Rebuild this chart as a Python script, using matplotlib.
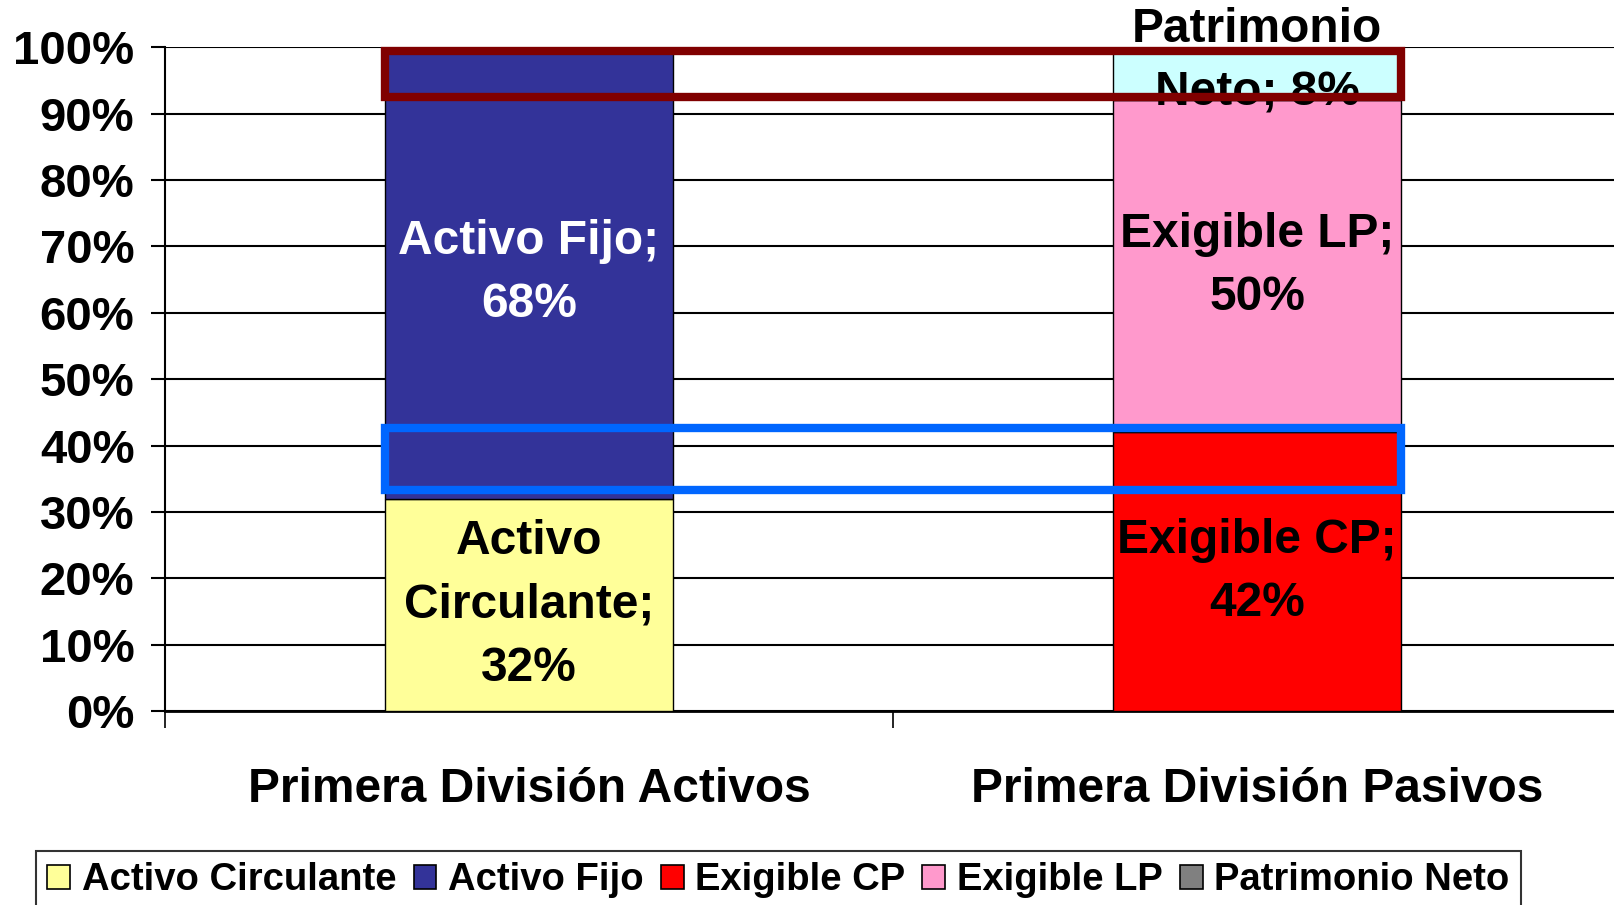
"""Stacked 100% bars: activos vs pasivos, with highlight boxes."""

import matplotlib
import matplotlib.pyplot as plt
from matplotlib.patches import Patch, Rectangle

matplotlib.use("Agg")

plt.rcParams["font.family"] = ["Liberation Sans", "DejaVu Sans"]
plt.rcParams["font.weight"] = "bold"

categories = ["Primera División Activos", "Primera División Pasivos"]
series = ["Activo Circulante", "Activo Fijo", "Exigible CP", "Exigible LP", "Patrimonio Neto"]
activos = [32, 68]
pasivos = [42, 50, 8]
bar_labels_activos = ["Activo\nCirculante;\n32%", "Activo Fijo;\n68%"]
bar_labels_pasivos = ["Exigible CP;\n42%", "Exigible LP;\n50%", "Patrimonio\nNeto; 8%"]
yticks = list(range(0, 101, 10))

colors_activos = ["#FFFF99", "#333399"]
colors_pasivos = ["#FF0000", "#FF99CC", "#CCFFFF"]
legend_colors = ["#FFFF99", "#333399", "#FF0000", "#FF99CC", "#808080"]
label_colors_activos = ["black", "white"]
label_colors_pasivos = ["black", "black", "black"]

fig = plt.figure(figsize=(16.15, 9.05), dpi=100)
ax = fig.add_axes([165 / 1615, 194 / 905, 1456 / 1615, 663.6 / 905])

width = 0.395
xs = [0.5, 1.5]


def stack(x, vals, cols, labels, lcols, label_y=None):
    bottom = 0
    for i, (v, c, lab, lc) in enumerate(zip(vals, cols, labels, lcols)):
        ax.bar(x, v, width, bottom=bottom, color=c, edgecolor="black", linewidth=1.0, zorder=3)
        y = bottom + v / 2
        if label_y is not None and label_y[i] is not None:
            y = label_y[i]
        ax.text(x, y, lab, ha="center", va="center", fontsize=34.5, fontweight="bold",
                color=lc, linespacing=1.52, zorder=5, clip_on=False)
        bottom += v


stack(xs[0], activos, colors_activos, bar_labels_activos, label_colors_activos)
stack(xs[1], pasivos, colors_pasivos, bar_labels_pasivos, label_colors_pasivos,
      label_y=[None, None, 97.9])

# highlight boxes
ax.add_patch(Rectangle((xs[0] - width / 2, 92.6), xs[1] - xs[0] + width, 6.9,
                       fill=False, edgecolor="#800000", linewidth=6, zorder=6, clip_on=False))
ax.add_patch(Rectangle((xs[0] - width / 2, 33.3), xs[1] - xs[0] + width, 9.3,
                       fill=False, edgecolor="#0066FF", linewidth=6, zorder=6, clip_on=False))

ax.set_xlim(0, 2)
ax.set_ylim(0, 100)
ax.set_yticks(yticks)
ax.set_yticklabels([f"{t}%" for t in yticks])
ax.yaxis.grid(True, color="black", linewidth=1.5, zorder=0)
ax.set_axisbelow(True)

ax.set_xticks([0, 1, 2])
ax.set_xticklabels([])
ax.set_xticks(xs, minor=True)
ax.set_xticklabels(categories, minor=True)
ax.tick_params(axis="x", which="major", length=12, width=1.2, direction="out")
ax.tick_params(axis="x", which="minor", length=0, pad=40, labelsize=34.5)
ax.tick_params(axis="y", length=10, width=1.5, pad=12, labelsize=34)

for s in ["top", "right"]:
    ax.spines[s].set_visible(False)
ax.spines["left"].set_linewidth(1.5)
ax.spines["bottom"].set_linewidth(2)

handles = [Patch(facecolor=c, edgecolor="black", linewidth=1.2) for c in legend_colors]
leg = fig.legend(handles, series, loc="upper left", bbox_to_anchor=(36 / 1615, 1 - 851 / 905),
                 ncol=5, fontsize=27.5, frameon=True, fancybox=False, handlelength=0.6,
                 handleheight=0.6, handletextpad=0.3, columnspacing=0.45, borderpad=0.3,
                 borderaxespad=0)
leg.get_frame().set_edgecolor("black")
leg.get_frame().set_linewidth(1.5)

fig.savefig("out.png", dpi=100)
